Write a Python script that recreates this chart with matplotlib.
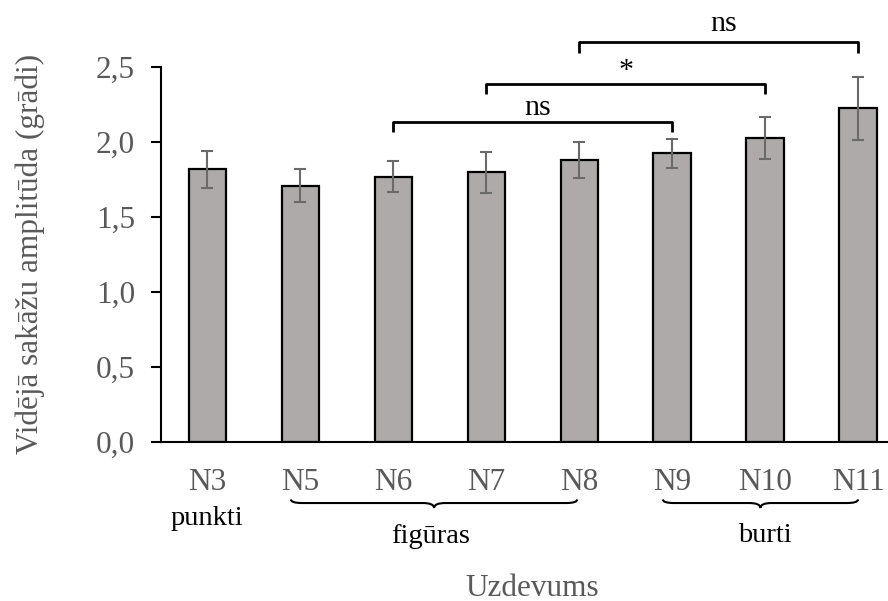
import matplotlib
matplotlib.use("Agg")
import matplotlib.pyplot as plt
from matplotlib.path import Path
from matplotlib.patches import PathPatch
import numpy as np

# mean saccade amplitude per task, with error bars
tasks = ['N3', 'N5', 'N6', 'N7', 'N8', 'N9', 'N10', 'N11']
means = [1.815, 1.705, 1.767, 1.795, 1.878, 1.922, 2.022, 2.222]
errs = [0.125, 0.11, 0.105, 0.135, 0.122, 0.095, 0.14, 0.21]

# pairwise comparisons drawn above the bars
comparisons = [(2, 5, 'ns'), (3, 6, '*'), (4, 7, 'ns')]
bracket_y = [2.13, 2.385, 2.662]
sig_label_y = [2.18, 2.474, 2.74]

# task groups under the axis
group_names = ['punkti', 'figūras', 'burti']
group_x = [0, 2.4, 6]
brace_spans = [(0.9, 3.98), (4.9, 7.0)]

plt.rcParams['font.family'] = ['Liberation Serif', 'DejaVu Serif']
gray_txt = '#595959'

fig = plt.figure(figsize=(8.88, 6.01), dpi=100)
ax = fig.add_axes([0.181, 0.2651, 0.8376, 0.624])

x = np.arange(len(tasks))
ax.bar(x, means, width=0.4, color='#AEAAAA', edgecolor='black', linewidth=1.6, zorder=2)
ax.errorbar(x, means, yerr=errs, fmt='none', ecolor='#6A6A6A', elinewidth=1.5,
            capsize=4.2, capthick=1.5, zorder=3)

ax.set_xlim(-0.5, 7.5)
ax.set_ylim(0, 2.5)
ax.set_yticks(np.arange(0, 2.51, 0.5))
ax.set_yticklabels([f"{v:.1f}".replace('.', ',') for v in np.arange(0, 2.51, 0.5)])
ax.set_xticks(x)
ax.set_xticklabels(tasks)

for s in ['top', 'right']:
    ax.spines[s].set_visible(False)
for s in ['left', 'bottom']:
    ax.spines[s].set_linewidth(1.5)
ax.tick_params(axis='y', length=7, width=1.5, pad=11.5, labelsize=22.5, labelcolor=gray_txt)
ax.tick_params(axis='x', length=0, pad=19, labelsize=22.5, labelcolor=gray_txt)

ax.set_ylabel('Vidējā sakāžu amplitūda (grādi)', fontsize=22.5, color=gray_txt)
ax.yaxis.set_label_coords(-0.1556, 0.5)
ax.set_xlabel('Uzdevums', fontsize=22.5, color=gray_txt)
ax.xaxis.set_label_coords(0.5, -0.352)

# significance brackets
drop = 0.068
for (i, j, lab), yb, yl in zip(comparisons, bracket_y, sig_label_y):
    ax.plot([i, i, j, j], [yb - drop, yb, yb, yb - drop], color='black', lw=2,
            solid_joinstyle='round', solid_capstyle='butt', clip_on=False)
    if lab == '*':
        ax.text((i + j) / 2, yl, lab, ha='center', va='center', fontsize=21.5)
    else:
        ax.text((i + j) / 2 + 0.05, yl, lab, ha='center', va='baseline', fontsize=21.5)

# curly braces under the task labels
ye, ym, yt = -0.385, -0.409, -0.442
r = 0.12
for x0, x1 in brace_spans:
    xc = (x0 + x1) / 2
    verts = [(x0, ye), (x0, ym), (x0 + r, ym),
             (xc - r, ym),
             (xc, ym), (xc, yt),
             (xc, ym), (xc + r, ym),
             (x1 - r, ym),
             (x1, ym), (x1, ye)]
    codes = [Path.MOVETO, Path.CURVE3, Path.CURVE3,
             Path.LINETO,
             Path.CURVE3, Path.CURVE3,
             Path.CURVE3, Path.CURVE3,
             Path.LINETO,
             Path.CURVE3, Path.CURVE3]
    ax.add_patch(PathPatch(Path(verts, codes), fill=False, edgecolor='black', lw=1.5,
                           clip_on=False))

group_y = [-0.556, -0.676, -0.667]
for name, gx, gy in zip(group_names, group_x, group_y):
    ax.text(gx, gy, name, ha='center', va='baseline', fontsize=20.5, color='black')

fig.savefig('out.png', dpi=100)
